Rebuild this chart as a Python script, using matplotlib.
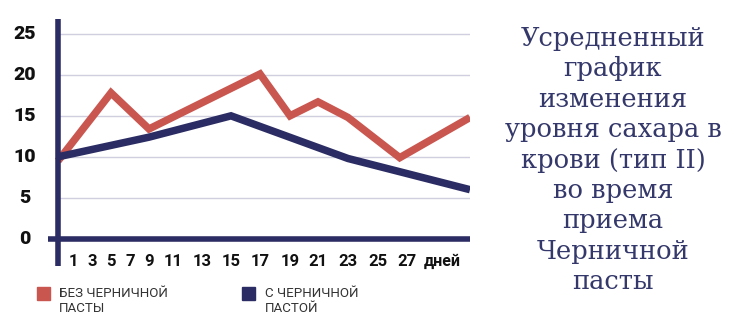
import numpy as np
import matplotlib.pyplot as plt

# данные (дни -> уровень сахара)
red_days = [0, 5, 9, 17, 19, 21, 23, 26.5, 31]
red_vals = [9.5, 17.8, 13.4, 20.1, 15.0, 16.7, 14.8, 9.9, 14.8]
blue_days = [0, 9, 15, 23, 31]
blue_vals = [10.0, 12.4, 15.0, 9.8, 6.0]

tick_days = [1, 3, 5, 7, 9, 11, 13, 15, 17, 19, 21, 23, 25, 27]
y_ticks = [0, 5, 10, 15, 20, 25]
unit_label = "дней"

title = "Усредненный\nграфик\nизменения\nуровня сахара в\nкрови (тип II)\nво время\nприема\nЧерничной\nпасты"
label_red = "БЕЗ ЧЕРНИЧНОЙ\nПАСТЫ"
label_blue = "С ЧЕРНИЧНОЙ\nПАСТОЙ"

RED = "#c9564f"
NAVY = "#2b2c63"
GRID = "#cfcfe0"

# неравномерная шкала дней, как на исходной картинке
knot_days = [0, 1, 3, 5, 7, 9, 11, 13, 15, 17, 19, 21, 23, 25, 27, 31]
knot_pos = [58, 73, 92, 111, 130, 149, 173, 202, 231, 260, 290, 318, 348, 378, 407, 470]


def day_x(d):
    return np.interp(d, knot_days, knot_pos)


W, H = 750, 329
fig = plt.figure(figsize=(W / 100, H / 100), dpi=100)
ax = fig.add_axes([48 / W, (H - 266) / H, 422 / W, 247 / H])
ax.set_xlim(48, 470)
ax.set_ylim(-3.3, 26.8)
ax.axis("off")

for v in y_ticks[1:]:
    ax.plot([58, 470], [v, v], color=GRID, lw=1, zorder=1)

ax.plot(day_x(red_days), red_vals, color=RED, lw=5.4,
        solid_joinstyle="miter", solid_capstyle="butt", zorder=3)
ax.plot(day_x(blue_days), blue_vals, color=NAVY, lw=5.4,
        solid_joinstyle="miter", solid_capstyle="butt", zorder=4)

# оси
ax.plot([48, 470], [0, 0], color=NAVY, lw=4, solid_capstyle="butt", zorder=5)
ax.plot([58, 58], [-3.3, 26.8], color=NAVY, lw=4, solid_capstyle="butt", zorder=5)

for v in y_ticks:
    ax.text(25, v, str(v), ha="center", va="center", fontsize=14,
            fontweight="black", family="Roboto", color="#111111", clip_on=False)

for d in tick_days:
    ax.text(day_x(d), -2.7, str(d), ha="center", va="center", fontsize=12,
            fontweight="bold", family="Roboto", color="#111111")
ax.text(442, -2.7, unit_label, ha="center", va="center", fontsize=11.5,
        fontweight="bold", family="Roboto", color="#111111")

# легенда
fig.patches.append(plt.Rectangle((37 / W, (H - 300) / H), 13 / W, 13 / H,
                                 transform=fig.transFigure, color=RED))
fig.patches.append(plt.Rectangle((242 / W, (H - 300) / H), 13 / W, 13 / H,
                                 transform=fig.transFigure, color=NAVY))
fig.text(59 / W, (H - 287) / H, label_red, ha="left", va="top", fontsize=9.6,
         family="Roboto", color="#333333", linespacing=1.25)
fig.text(265 / W, (H - 287) / H, label_blue, ha="left", va="top", fontsize=9.6,
         family="Roboto", color="#333333", linespacing=1.25)

fig.text(613 / W, (H - 160) / H, title, ha="center", va="center", fontsize=18.5,
         family="DejaVu Serif", color="#34386a", linespacing=1.27)

fig.savefig("out.png", dpi=100)
